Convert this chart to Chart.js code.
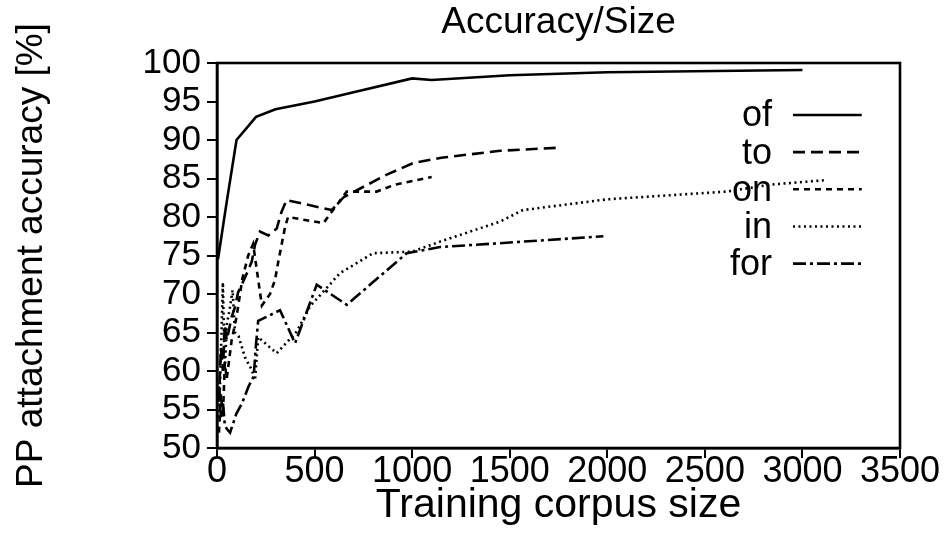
<!DOCTYPE html>
<html><head><meta charset="utf-8">
<script src="https://cdn.jsdelivr.net/npm/chart.js@4"></script>
<style>html,body{margin:0;padding:0;background:#fff;}#wrap{width:946px;height:544px;}</style>
</head><body><div id="wrap"><canvas id="c" width="946" height="544"></canvas></div>
<script>
// ---- data ----
const seriesNames = ['of', 'to', 'on', 'in', 'for'];
const ofData = [[5,74.5],[50,82],[100,90],[200,93],[300,94],[500,95],[700,96.2],[1000,98],[1100,97.8],[1500,98.4],[2000,98.8],[3000,99.1]];
const toData = [[10,56],[20,63],[30,60],[40,66],[50,64],[75,67],[92,68.3],[108,70.2],[143,72.1],[178,74.2],[195,76.4],[220,78.1],[263,77.6],[306,78.5],[331,80.7],[357,82.2],[588,80.9],[650,82.6],[870,85.5],[1005,87],[1150,87.7],[1450,88.6],[1750,89]];
const onData = [[10,52],[20,57],[30,54],[40,61],[50,59],[75,64],[100,67],[130,72],[160,75],[185,76.5],[230,68.5],[272,70],[297,71.8],[314,74.2],[331,76.4],[348,78.6],[364,80],[545,79.2],[665,83.3],[818,83.3],[912,84.2],[1100,85.2]];
const inData = [[10,54],[20,62],[30,71.5],[40,60],[50,66],[65,68],[80,70.5],[92,65],[111,64.5],[143,61.8],[179,60.1],[195,58.8],[211,64.4],[306,62.3],[408,65.1],[477,68.4],[630,72.7],[800,75.3],[1000,75.5],[1143,76.8],[1450,79.4],[1568,80.9],[2000,82.3],[2611,83.3],[2834,84.2],[3124,84.8]];
const forData = [[10,58],[20,54],[30,56],[40,53],[50,52.5],[67,52],[100,54.5],[128,55.8],[162,58],[188,59.3],[200,63.5],[211,66.5],[323,67.9],[400,63.6],[511,71.2],[665,68.6],[972,75.3],[1143,76.1],[1450,76.6],[1980,77.5]];
const xTickValues = [0, 500, 1000, 1500, 2000, 2500, 3000, 3500];
const yTickValues = [50, 55, 60, 65, 70, 75, 80, 85, 90, 95, 100];
const chartTitle = 'Accuracy/Size';
const xTitle = 'Training corpus size';
const yTitle = 'PP attachment accuracy [%]';

const FONT = '"Liberation Sans", Arial, Helvetica, sans-serif';
const allData = [ofData, toData, onData, inData, forData];
const dashes = [[], [12, 6], [6, 5], [2, 3.5], [13, 4, 3, 4]];

const datasets = allData.map((d, i) => ({
  label: seriesNames[i],
  data: d.map(p => ({x: p[0], y: p[1]})),
  borderColor: '#000',
  borderWidth: 2.6,
  borderDash: dashes[i],
  pointRadius: 0,
  tension: 0,
  fill: false
}));

const framePlugin = {
  id: 'frame',
  afterDatasetsDraw(chart) {
    const {ctx, chartArea: a} = chart;
    ctx.save();
    ctx.strokeStyle = '#000';
    ctx.lineWidth = 2.6;
    ctx.setLineDash([]);
    ctx.strokeRect(a.left, a.top, a.right - a.left, a.bottom - a.top);
    // title centred over the plot area
    ctx.font = '37px ' + FONT;
    ctx.fillStyle = '#000';
    ctx.textAlign = 'center';
    ctx.textBaseline = 'middle';
    ctx.fillText(chartTitle, (a.left + a.right) / 2, 23);
    ctx.restore();
  }
};

const legendPlugin = {
  id: 'insetLegend',
  afterDatasetsDraw(chart) {
    const {ctx, chartArea: a} = chart;
    const w = a.right - a.left, h = a.bottom - a.top;
    const textRight = a.left + w * 0.8126;
    const lineStart = a.left + w * 0.8433;
    const lineEnd = a.left + w * 0.944;
    ctx.save();
    ctx.font = '36px ' + FONT;
    ctx.fillStyle = '#000';
    ctx.textAlign = 'right';
    ctx.textBaseline = 'alphabetic';
    chart.data.datasets.forEach((ds, i) => {
      const y = a.top + h * (0.135 + i * 0.0965);
      ctx.fillText(ds.label, textRight, y + 11.5);
      ctx.beginPath();
      ctx.strokeStyle = '#000';
      ctx.lineWidth = ds.borderWidth;
      ctx.setLineDash(ds.borderDash);
      ctx.moveTo(lineStart, y);
      ctx.lineTo(lineEnd, y);
      ctx.stroke();
    });
    ctx.restore();
  }
};

new Chart(document.getElementById('c'), {
  type: 'line',
  data: { datasets },
  options: {
    responsive: false,
    animation: false,
    devicePixelRatio: 1,
    layout: { padding: { left: 0, right: 46, top: 63, bottom: 0 } },
    plugins: {
      legend: { display: false },
      tooltip: { enabled: false },
      title: { display: false }
    },
    scales: {
      x: {
        type: 'linear', min: 0, max: 3500,
        afterBuildTicks: s => { s.ticks = xTickValues.map(v => ({value: v})); },
        afterFit: s => { s.height = 96; },
        ticks: { color: '#000', font: { family: FONT, size: 36, lineHeight: 1 }, padding: -4, maxRotation: 0, autoSkip: false, callback: v => String(v) },
        grid: { display: true, drawOnChartArea: false, drawTicks: true, tickLength: 10, color: '#000', lineWidth: 2 },
        border: { display: true, color: '#000', width: 2.6 },
        title: { display: true, text: xTitle, color: '#000', font: { family: FONT, size: 41, lineHeight: 1.2 }, padding: { top: 0, bottom: 14 } }
      },
      y: {
        type: 'linear', min: 50, max: 100,
        afterBuildTicks: s => { s.ticks = yTickValues.map(v => ({value: v})); },
        afterFit: s => { s.width = 217; },
        ticks: { color: '#000', font: { family: FONT, size: 35, lineHeight: 1 }, padding: 6, autoSkip: false, callback: v => String(v) },
        grid: { display: true, drawOnChartArea: false, drawTicks: true, tickLength: 10, color: '#000', lineWidth: 2 },
        border: { display: true, color: '#000', width: 2.6 },
        title: { display: true, text: yTitle, color: '#000', font: { family: FONT, size: 37, lineHeight: 1.2 }, padding: { top: 10, bottom: 0 } }
      }
    }
  },
  plugins: [framePlugin, legendPlugin]
});
</script></body></html>
